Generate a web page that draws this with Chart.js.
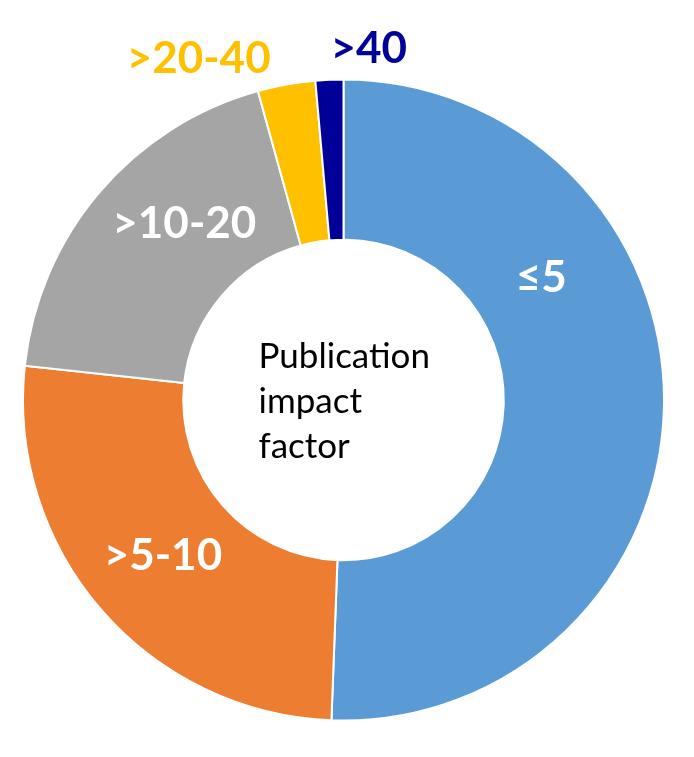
<!DOCTYPE html>
<html>
<head>
<meta charset="utf-8">
<script src="https://cdn.jsdelivr.net/npm/chart.js@4"></script>
<style>
  html, body { margin: 0; padding: 0; background: #fff; }
  #wrap { width: 694px; height: 757px; }
</style>
</head>
<body>
<div id="wrap"><canvas id="ifChart"></canvas></div>
<script>
const categories = ['≤5', '>5-10', '>10-20', '>20-40', '>40'];
const shares = [50.6, 26.1, 19.0, 2.9, 1.4];
const sliceColors = ['#5B9BD5', '#ED7D31', '#A5A5A5', '#FFC000', '#000099'];
const labelColors = ['#ffffff', '#ffffff', '#ffffff', '#FFC000', '#000099'];
const centerLines = ['Publication', 'impact', 'factor'];

// where each label sits inside its slice: fraction along the arc, fraction across the ring
const labelPlace = [
  { a: 0.32, r: 0.45, align: 'center' },
  { a: 0.50, r: 0.49, align: 'center' },
  { a: 0.61, r: 0.48, align: 'center' },
  { a: 0.33, r: 1.18, align: 'right' },
  { a: 0.58, r: 1.19, align: 'left' }
];

const sliceLabels = {
  id: 'sliceLabels',
  afterDatasetsDraw(chart) {
    const ctx = chart.ctx;
    const arcs = chart.getDatasetMeta(0).data;
    ctx.save();
    ctx.font = 'bold 44px Lato';
    ctx.textBaseline = 'middle';
    arcs.forEach((arc, i) => {
      const p = arc.getProps(['x', 'y', 'startAngle', 'endAngle', 'innerRadius', 'outerRadius'], true);
      const pl = labelPlace[i];
      const ang = p.startAngle + (p.endAngle - p.startAngle) * pl.a;
      const rad = p.innerRadius + (p.outerRadius - p.innerRadius) * pl.r;
      ctx.fillStyle = labelColors[i];
      ctx.textAlign = pl.align;
      ctx.fillText(categories[i], p.x + Math.cos(ang) * rad, p.y + Math.sin(ang) * rad);
    });

    // text in the hole
    const c = arcs[0];
    ctx.fillStyle = '#000';
    ctx.font = '35px Lato';
    ctx.textAlign = 'left';
    ctx.textBaseline = 'alphabetic';
    const left = c.x - 85;
    centerLines.forEach((t, k) => {
      ctx.fillText(t, left, c.y - 32 + k * 45);
    });
    ctx.restore();
  }
};

new Chart(document.getElementById('ifChart').getContext('2d'), {
  type: 'doughnut',
  data: {
    labels: categories,
    datasets: [{
      data: shares,
      backgroundColor: sliceColors,
      borderColor: '#ffffff',
      borderWidth: 2
    }]
  },
  options: {
    responsive: true,
    maintainAspectRatio: false,
    animation: false,
    cutout: '50%',
    layout: { padding: { left: 22, right: 29, top: 78, bottom: 35 } },
    plugins: { legend: { display: false }, tooltip: { enabled: false } }
  },
  plugins: [sliceLabels]
});
</script>
</body>
</html>
